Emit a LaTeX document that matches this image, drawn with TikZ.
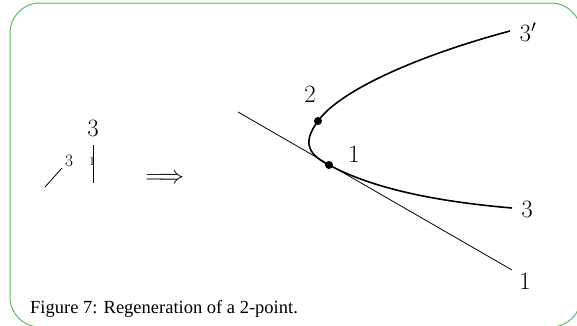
\documentclass[tikz,border=0pt]{standalone}
\usepackage{fontspec}
\newfontfamily\capfont{Liberation Serif}
\definecolor{framegreen}{RGB}{96,184,96}
\tikzset{
  frameline/.style={draw=framegreen, line width=1pt, rounded corners=30pt},
  thinline/.style={line width=0.8pt},
  curveline/.style={line width=1.6pt},
  dotnode/.style={circle, fill=black, inner sep=0pt, minimum size=8pt},
  biglabel/.style={inner sep=0pt, font=\fontsize{27}{27}\selectfont},
  smalllabel/.style={inner sep=0pt, font=\fontsize{16}{16}\selectfont},
  caption/.style={inner sep=0pt, anchor=base west, font=\capfont\fontsize{18.5}{20}\selectfont}
}
\begin{document}
\begin{tikzpicture}[x=1pt,y=-1pt]
\useasboundingbox (0,0) rectangle (577,325);
\begin{scope}
  \clip (0,0) rectangle (577,325);
  \draw[frameline] (10,3) rectangle (581,327);
\end{scope}
% left part
\coordinate (s0) at (45,187);
\coordinate (s1) at (62,168);
\draw[thinline] (s0) -- (s1);
\node[smalllabel] (l3s) at (69,161) {$3$};
\coordinate (v0) at (93,145);
\coordinate (v1) at (93,183);
\draw[thinline] (v0) -- (v1);
\node[inner sep=0pt, font=\fontsize{13}{13}\selectfont] (l1s) at (92,162) {$1$};
\node[biglabel] (l3b) at (93,128) {$3$};
\node[inner sep=0pt, font=\fontsize{25}{25}\selectfont] (arr) at (165,179) {$\Longrightarrow$};
% right part
\coordinate (a0) at (238,112);
\coordinate (a1) at (512,270);
\draw[thinline] (a0) -- (a1);
\node[dotnode] (p1) at (329,165) {};
\node[dotnode] (p2) at (318,121) {};
\coordinate (e3p) at (510,31);
\coordinate (e3) at (512,208);
\draw[curveline] (e3p) .. controls (420,55) and (340,90) .. (p2.center)
  .. controls (304,140) and (305,153) .. (p1.center)
  .. controls (370,187) and (430,201) .. (e3);
\node[biglabel] (t2) at (310,94) {$2$};
\node[biglabel] (t1) at (354,154) {$1$};
\node[biglabel] (t3p) at (528,32) {$3'$};
\node[biglabel] (t3) at (527,209) {$3$};
\node[biglabel] (t1b) at (525,281) {$1$};
\node[caption] (cap) at (30,313) {Figure 7: Regeneration of a 2-point.};
\end{tikzpicture}
\end{document}
